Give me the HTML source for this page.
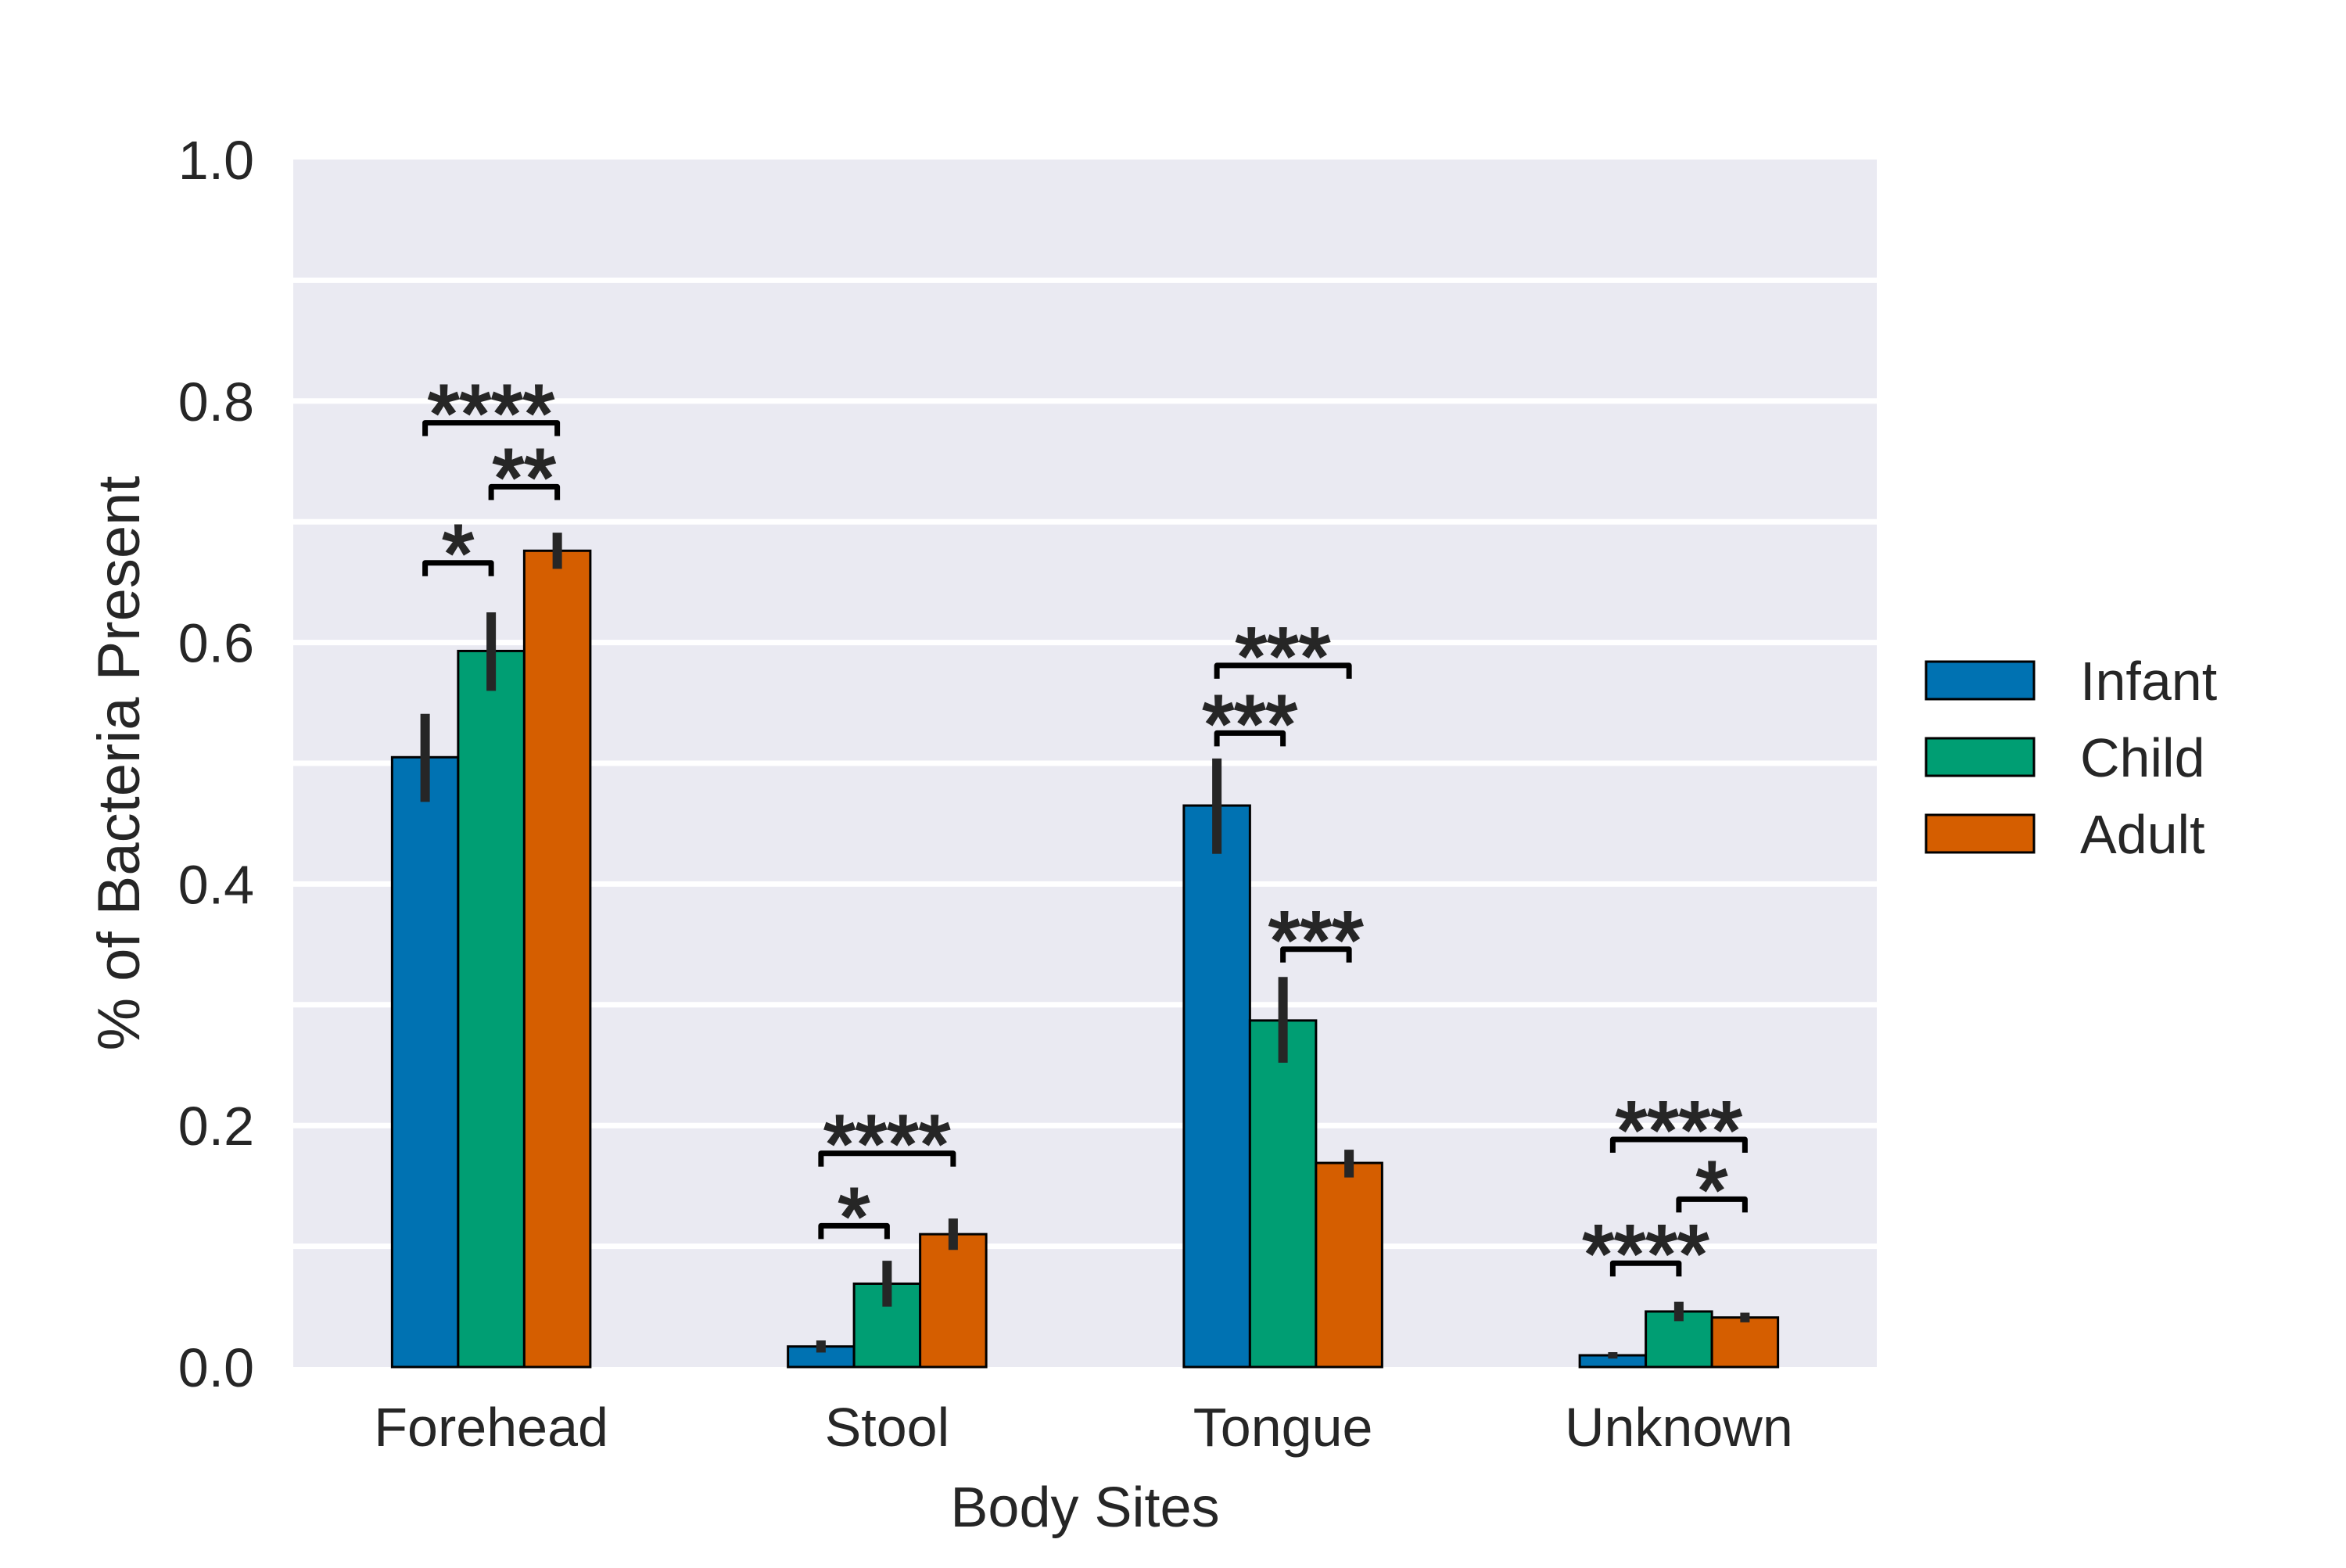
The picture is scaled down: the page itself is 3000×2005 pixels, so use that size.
<!DOCTYPE html>
<html><head><meta charset="utf-8"><style>
html,body{margin:0;padding:0;background:#fff;}
svg text{font-family:"Liberation Sans",Arial,sans-serif;fill:#262626;}
</style></head><body>
<svg id="chart" width="3000" height="2000" viewBox="0 0 3000 2000" xmlns="http://www.w3.org/2000/svg">
<rect x="0" y="0" width="3000" height="2000" fill="#fff"/>
</svg>
<script>
const categories = ["Forehead","Stool","Tongue","Unknown"];
const seriesNames = ["Infant","Child","Adult"];
const infantVals = [0.505, 0.017, 0.465, 0.0097];
const childVals = [0.593, 0.069, 0.287, 0.046];
const adultVals = [0.676, 0.110, 0.169, 0.041];
const infantLo = [0.468, 0.012, 0.425, 0.007];
const infantHi = [0.541, 0.022, 0.504, 0.0123];
const childLo = [0.560, 0.050, 0.252, 0.038];
const childHi = [0.625, 0.088, 0.323, 0.054];
const adultLo = [0.661, 0.097, 0.157, 0.037];
const adultHi = [0.691, 0.123, 0.180, 0.045];
const yTicks = [0, 0.2, 0.4, 0.6, 0.8, 1.0];
const yTickLabels = ["0.0","0.2","0.4","0.6","0.8","1.0"];
const gridVals = [0.1,0.2,0.3,0.4,0.5,0.6,0.7,0.8,0.9];
const sigGroup = [0,0,0,1,1,2,2,2,3,3,3];
const sigFrom = [0,1,0,0,0,0,0,1,0,1,0];
const sigTo = [1,2,2,1,2,1,2,2,1,2,2];
const sigY = [0.666,0.729,0.782,0.117,0.177,0.525,0.581,0.346,0.086,0.139,0.1885];
const sigLabels = ["*","**","****","*","****","***","***","***","****","*","****"];

const colors = ["#0072B2","#009E73","#D55E00"];
const vals = [infantVals, childVals, adultVals];
const los = [infantLo, childLo, adultLo];
const his = [infantHi, childHi, adultHi];
const L=375, R=2400, T=204, B=1748;
const step=(R-L)/categories.length, barW=84.5;
const x = g => L + step*(g+0.5);
const barX = (g,s) => x(g) + (s-1)*barW;
const y = v => B - v*(B-T);
const NS="http://www.w3.org/2000/svg";
const svg=document.getElementById('chart');
function mk(tag, attrs, parent){const e=document.createElementNS(NS,tag);for(const k in attrs)e.setAttribute(k,attrs[k]);(parent||svg).appendChild(e);return e;}

const axbg=mk('rect',{x:L,y:T,width:R-L,height:B-T,fill:'#EAEAF2'});


gridVals.forEach(v=>{
  const gl=mk('line',{x1:L,x2:R,y1:y(v),y2:y(v),stroke:'#fff','stroke-width':7});
  
  
});
yTicks.forEach((v,i)=>{
  const t=mk('text',{x:325,y:y(v)+25,'text-anchor':'end','font-size':70});
  t.textContent=yTickLabels[i];
  
  
});
categories.forEach((c,g)=>{
  const t=mk('text',{x:x(g),y:1849,'text-anchor':'middle','font-size':70});
  t.textContent=c;
  
  
  for(let s=0;s<3;s++){
    const cx=barX(g,s);
    const r=mk('rect',{x:cx-barW/2,y:y(vals[s][g]),width:barW,height:B-y(vals[s][g]),fill:colors[s],stroke:'#000','stroke-width':3});
    
    
    const e=mk('line',{x1:cx,x2:cx,y1:y(his[s][g]),y2:y(los[s][g]),stroke:'#262626','stroke-width':12});
    
    
  }
});
sigY.forEach((v,i)=>{
  const x1=barX(sigGroup[i],sigFrom[i]), x2=barX(sigGroup[i],sigTo[i]), yy=y(v);
  const p=mk('path',{d:`M${x1},${yy+17} L${x1},${yy} L${x2},${yy} L${x2},${yy+17}`,fill:'none',stroke:'#000','stroke-width':7,'stroke-linejoin':'round'});
  
  
  const t=mk('text',{x:(x1+x2)/2,y:yy+24,'text-anchor':'middle','font-size':104,stroke:'#262626','stroke-width':3});
  t.textContent=sigLabels[i];
  
  
});
const xl=mk('text',{x:(L+R)/2,y:1952,'text-anchor':'middle','font-size':72});
xl.textContent='Body Sites';


const yl=mk('text',{x:0,y:0,'text-anchor':'middle','font-size':76,transform:`translate(178,${(T+B)/2}) rotate(-90)`});
yl.textContent='% of Bacteria Present';


seriesNames.forEach((n,s)=>{
  const top=846+s*98;
  const r=mk('rect',{x:2463,y:top,width:138,height:48,fill:colors[s],stroke:'#000','stroke-width':3});
  
  
  const t=mk('text',{x:2660,y:top+49,'font-size':70});
  t.textContent=n;
  
  
});
</script>
</body></html>
